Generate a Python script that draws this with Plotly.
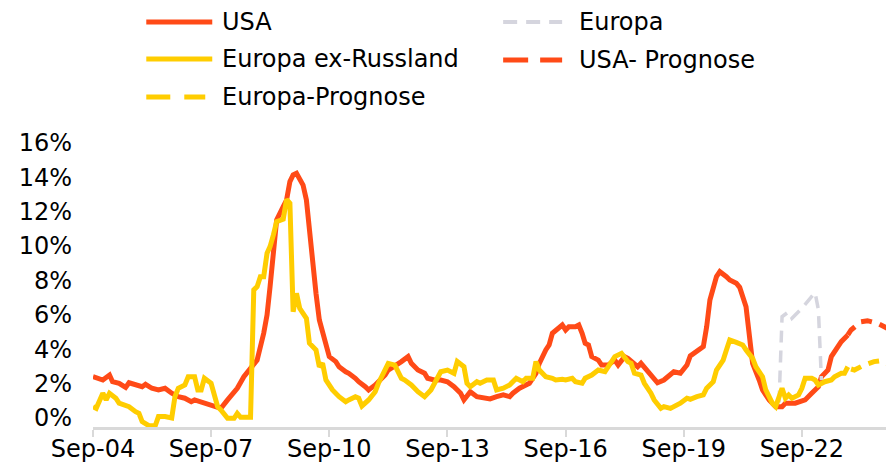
import plotly.graph_objects as go

# ---- data: monthly inflation rates (% y/y) ----
usa_dates = [
    "2004-09", "2004-12", "2005-02", "2005-03", "2005-05", "2005-07", "2005-08", "2005-12",
    "2006-01", "2006-03", "2006-05", "2006-07", "2006-09", "2006-11", "2007-01", "2007-03",
    "2007-04", "2007-07", "2007-10", "2007-12", "2008-02", "2008-05", "2008-07", "2008-10",
    "2008-11", "2009-01", "2009-02", "2009-03", "2009-04", "2009-05", "2009-07", "2009-08",
    "2009-09", "2009-10", "2009-11", "2009-12", "2010-01", "2010-02", "2010-03", "2010-04",
    "2010-05", "2010-06", "2010-07", "2010-08", "2010-09", "2010-11", "2010-12", "2011-02",
    "2011-03", "2011-05", "2011-06", "2011-08", "2011-09", "2011-11", "2011-12", "2012-02",
    "2012-03", "2012-05", "2012-07", "2012-09", "2012-10", "2012-12", "2013-02", "2013-03",
    "2013-05", "2013-07", "2013-09", "2013-11", "2014-01", "2014-02", "2014-04", "2014-06",
    "2014-08", "2014-10", "2014-12", "2015-02", "2015-04", "2015-05", "2015-07", "2015-10",
    "2015-12", "2016-01", "2016-03", "2016-04", "2016-05", "2016-06", "2016-08", "2016-09",
    "2016-10", "2016-12", "2017-01", "2017-02", "2017-03", "2017-04", "2017-05", "2017-07",
    "2017-08", "2017-10", "2017-12", "2018-01", "2018-03", "2018-04", "2018-07", "2018-08",
    "2018-10", "2018-12", "2019-01", "2019-03", "2019-04", "2019-06", "2019-08", "2019-10",
    "2019-11", "2020-01", "2020-03", "2020-04", "2020-05", "2020-07", "2020-08", "2020-10",
    "2020-11", "2021-01", "2021-02", "2021-04", "2021-05", "2021-06", "2021-08", "2021-09",
    "2021-11", "2022-01", "2022-03", "2022-04", "2022-07", "2022-09", "2022-10", "2022-12",
    "2023-02", "2023-03", "2023-05", "2023-06", "2023-08", "2023-09", "2023-11",
]
usa_values = [
    2.40, 2.21, 2.50, 2.11, 2.02, 1.78, 2.05, 1.82,
    1.96, 1.73, 1.63, 1.73, 1.44, 1.24, 1.15, 0.95,
    1.05, 0.89, 0.66, 0.56, 1.05, 1.73, 2.40, 3.08,
    3.37, 4.93, 5.99, 7.64, 9.58, 11.52, 12.29, 12.68,
    13.75, 14.14, 14.23, 13.94, 13.55, 12.68, 10.74, 8.80,
    7.25, 5.70, 4.93, 4.44, 3.57, 3.28, 2.98, 2.69,
    2.60, 2.31, 2.11, 1.82, 1.63, 1.92, 2.11, 2.50,
    2.79, 3.08, 3.28, 3.57, 3.18, 2.79, 2.60, 2.31,
    2.21, 2.21, 2.11, 1.82, 1.44, 1.05, 1.53, 1.24,
    1.15, 1.11, 1.24, 1.34, 1.24, 1.44, 1.73, 2.02,
    2.60, 3.18, 3.96, 4.25, 4.93, 5.12, 5.41, 5.12,
    5.31, 5.31, 5.41, 4.93, 4.35, 4.25, 3.57, 3.37,
    3.08, 3.08, 3.37, 3.08, 3.57, 3.47, 2.98, 3.18,
    2.69, 2.31, 2.05, 2.21, 2.40, 2.69, 2.60, 3.08,
    3.61, 3.86, 4.15, 5.31, 6.86, 8.22, 8.51, 8.22,
    8.03, 7.84, 7.60, 6.47, 4.73, 3.18, 2.21, 1.63,
    1.05, 0.66, 0.66, 0.86, 0.86, 0.95, 1.05, 1.44,
    1.82, 2.40, 2.79, 3.57, 4.15, 4.44, 4.83,
]

europe_dates = ["2022-02", "2022-03", "2022-05", "2022-06", "2022-09", "2022-11",
                "2023-01", "2023-02", "2023-03"]
europe_values = [0.90, 5.89, 6.18, 5.80, 6.38, 6.86, 7.30, 6.30, 2.20]

ex_russia_dates = [
    "2004-09", "2004-10", "2004-12", "2005-01", "2005-02", "2005-04", "2005-05", "2005-07",
    "2005-08", "2005-10", "2005-11", "2005-12", "2006-02", "2006-04", "2006-05", "2006-07",
    "2006-09", "2006-10", "2006-11", "2007-01", "2007-02", "2007-04", "2007-05", "2007-06",
    "2007-07", "2007-09", "2007-11", "2007-12", "2008-02", "2008-04", "2008-05", "2008-06",
    "2008-09", "2008-10", "2008-11", "2008-12", "2009-01", "2009-02", "2009-03", "2009-04",
    "2009-05", "2009-07", "2009-08", "2009-09", "2009-10", "2009-11", "2009-12", "2010-01",
    "2010-02", "2010-03", "2010-05", "2010-06", "2010-07", "2010-08", "2010-10", "2010-12",
    "2011-02", "2011-03", "2011-05", "2011-06", "2011-07", "2011-09", "2011-11", "2011-12",
    "2012-02", "2012-03", "2012-05", "2012-07", "2012-08", "2012-10", "2012-12", "2013-02",
    "2013-04", "2013-05", "2013-07", "2013-09", "2013-11", "2013-12", "2014-02", "2014-03",
    "2014-04", "2014-06", "2014-07", "2014-09", "2014-11", "2014-12", "2015-02", "2015-04",
    "2015-06", "2015-08", "2015-09", "2015-11", "2015-12", "2016-01", "2016-03", "2016-05",
    "2016-06", "2016-08", "2016-09", "2016-11", "2016-12", "2017-02", "2017-03", "2017-05",
    "2017-07", "2017-09", "2017-10", "2017-12", "2018-02", "2018-04", "2018-05", "2018-06",
    "2018-08", "2018-09", "2018-11", "2018-12", "2019-02", "2019-03", "2019-05", "2019-07",
    "2019-08", "2019-10", "2019-11", "2020-01", "2020-03", "2020-04", "2020-06", "2020-07",
    "2020-09", "2020-10", "2020-11", "2021-01", "2021-03", "2021-04", "2021-06", "2021-07",
    "2021-09", "2021-10", "2021-12", "2022-01", "2022-02", "2022-03", "2022-04", "2022-05",
    "2022-06", "2022-08", "2022-09", "2022-10", "2022-12", "2023-01", "2023-02", "2023-04",
    "2023-06", "2023-07", "2023-09", "2023-10", "2023-11",
]
ex_russia_values = [
    0.66, 0.56, 1.44, 1.05, 1.44, 1.15, 0.86, 0.76,
    0.66, 0.37, 0.27, -0.21, -0.45, -0.45, 0.08, 0.08,
    0.00, 1.24, 1.73, 1.92, 2.40, 2.40, 1.63, 1.63,
    2.31, 2.02, 0.66, 0.47, -0.02, -0.02, 0.27, 0.04,
    0.04, 7.45, 7.64, 8.22, 8.22, 9.58, 9.97, 10.65,
    11.42, 11.56, 12.72, 12.49, 6.18, 7.25, 6.38, 6.09,
    5.80, 4.35, 3.96, 2.98, 3.18, 2.21, 1.63, 1.24,
    0.95, 1.05, 1.24, 1.15, 0.70, 1.05, 1.53, 2.02,
    2.79, 3.18, 3.08, 2.31, 2.21, 1.92, 1.53, 1.24,
    1.63, 2.02, 2.69, 2.79, 2.60, 3.28, 2.98, 2.02,
    1.82, 2.11, 2.02, 2.21, 2.21, 1.63, 1.73, 1.92,
    2.31, 2.11, 2.31, 2.31, 3.28, 2.79, 2.40, 2.31,
    2.21, 2.25, 2.21, 2.31, 2.11, 2.02, 2.31, 2.50,
    2.79, 2.69, 2.98, 3.57, 3.76, 3.28, 3.18, 2.60,
    2.50, 2.02, 1.44, 1.05, 0.56, 0.66, 0.56, 0.76,
    0.86, 1.15, 1.09, 1.24, 1.34, 1.73, 2.11, 2.79,
    3.37, 3.96, 4.54, 4.40, 4.25, 3.96, 3.47, 2.98,
    2.40, 1.63, 0.86, 0.66, 1.15, 1.73, 1.15, 1.34,
    1.15, 1.34, 1.73, 2.31, 2.31, 2.21, 1.92, 2.11,
    2.21, 2.40, 2.60, 2.60, 2.98,
]

usa_forecast_dates = ["2023-11", "2023-12", "2024-03", "2024-05", "2024-08", "2024-11"]
usa_forecast_values = [4.83, 5.12, 5.60, 5.66, 5.51, 5.22]

europe_forecast_dates = ["2023-12", "2024-01", "2024-04", "2024-07", "2024-09", "2024-11"]
europe_forecast_values = [2.85, 2.79, 3.08, 3.28, 3.33, 3.18]

x_tick_dates = ["2004-09-01", "2007-09-01", "2010-09-01", "2013-09-01",
                "2016-09-01", "2019-09-01", "2022-09-01"]
x_tick_labels = ["Sep-04", "Sep-07", "Sep-10", "Sep-13", "Sep-16", "Sep-19", "Sep-22"]
y_tick_values = [0, 2, 4, 6, 8, 10, 12, 14, 16]
y_tick_labels = [f"{v}%" for v in y_tick_values]

# ---- styling ----
RED = "#FF4A17"
YELLOW = "#FFCD00"
GREY = "#D5D5DE"
AXIS_GREY = "#D9D9D9"
FONT = "DejaVu Sans"
FONT_SIZE = 24

W, H = 886, 463
M_L, M_R, M_T, M_B = 92.7, 0, 140, 36

fig = go.Figure()

series = [
    ("USA", usa_dates, usa_values, RED, 5, "solid"),
    ("Europa", europe_dates, europe_values, GREY, 3.5, "12px,8px"),
    ("Europa ex-Russland", ex_russia_dates, ex_russia_values, YELLOW, 5, "solid"),
    ("USA- Prognose", usa_forecast_dates, usa_forecast_values, RED, 5, "11px,8px"),
    ("Europa-Prognose", europe_forecast_dates, europe_forecast_values, YELLOW, 5, "11px,8px"),
]
for name, xs, ys, color, width, dash in series:
    fig.add_trace(go.Scatter(
        x=xs, y=ys, name=name, mode="lines",
        line=dict(color=color, width=width, dash=dash),
        showlegend=False, hoverinfo="x+y",
    ))

# ---- hand-drawn legend (long sample lines, two columns) ----
plot_w = W - M_L - M_R
plot_h = H - M_T - M_B


def paper_x(px):
    return (px - M_L) / plot_w


def paper_y(py):
    return (H - M_B - py) / plot_h


legend_items = [
    # label, color, width, dash, icon start px, icon end px, text px, row px
    ("USA", RED, 5, "solid", 146, 212, 220, 22),
    ("Europa", GREY, 4, "14px,9px", 503, 562, 577, 22),
    ("Europa ex-Russland", YELLOW, 5, "solid", 146, 212, 220, 59),
    ("USA- Prognose", RED, 5, "25px,12px", 503, 562, 577, 60),
    ("Europa-Prognose", YELLOW, 5, "24px,14px", 146, 205, 220, 97),
]
for label, color, width, dash, x0, x1, xt, yr in legend_items:
    fig.add_shape(
        type="line", xref="paper", yref="paper",
        x0=paper_x(x0), x1=paper_x(x1), y0=paper_y(yr), y1=paper_y(yr),
        line=dict(color=color, width=width, dash=dash),
    )
    fig.add_annotation(
        x=paper_x(xt), y=paper_y(yr), xref="paper", yref="paper",
        text=label, showarrow=False, xanchor="left", yanchor="middle",
        font=dict(family=FONT, size=FONT_SIZE, color="#000000"),
    )

fig.update_layout(
    width=W, height=H,
    margin=dict(l=M_L, r=M_R, t=M_T, b=M_B, pad=0),
    paper_bgcolor="white", plot_bgcolor="white",
    font=dict(family=FONT, size=FONT_SIZE, color="#000000"),
)
fig.update_xaxes(
    type="date",
    range=["2004-09-01", "2024-10-20"],
    tickvals=x_tick_dates, ticktext=x_tick_labels,
    showgrid=False, zeroline=False,
    showline=True, linecolor=AXIS_GREY, linewidth=2.5,
    ticks="outside", ticklen=7, tickwidth=2, tickcolor=AXIS_GREY,
    ticklabelstandoff=-9,
    tickfont=dict(family=FONT, size=FONT_SIZE, color="#000000"),
    automargin=False,
)
fig.update_yaxes(
    range=[-0.524, 16.17],
    tickvals=y_tick_values, ticktext=y_tick_labels,
    showgrid=False, zeroline=False, showline=False, ticks="",
    ticklabelstandoff=20,
    tickfont=dict(family=FONT, size=FONT_SIZE, color="#000000"),
    automargin=False,
)

fig.write_html("out.html")
